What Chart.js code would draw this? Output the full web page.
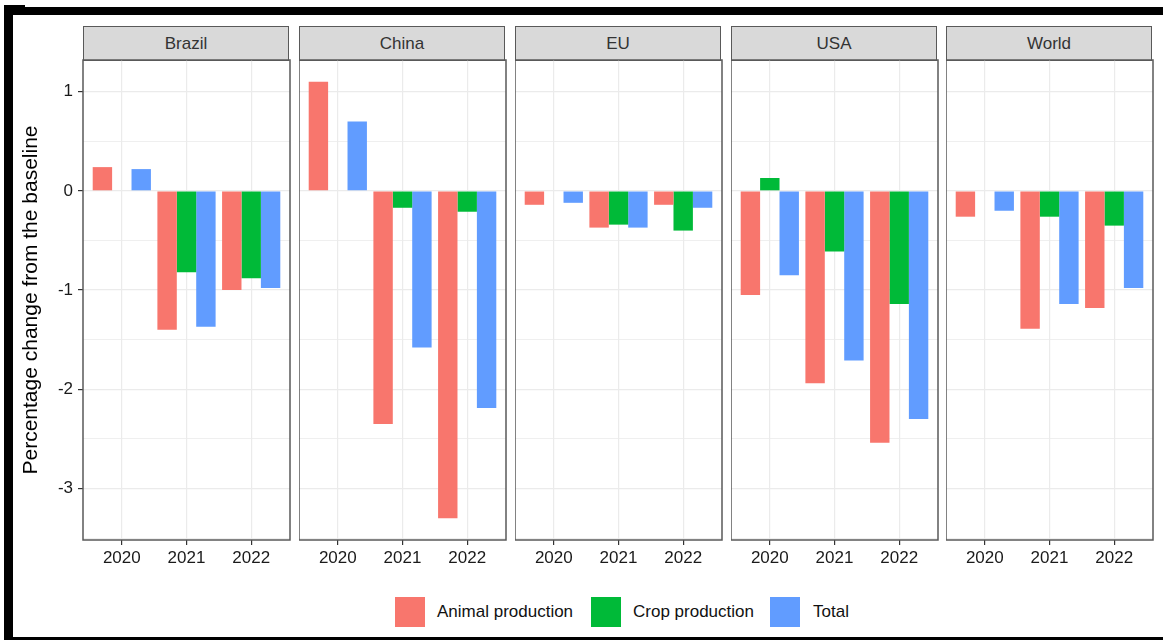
<!DOCTYPE html>
<html>
<head>
<meta charset="utf-8">
<script src="https://cdn.jsdelivr.net/npm/chart.js@4.4.1/dist/chart.umd.min.js"></script>
<style>
  html, body { margin: 0; padding: 0; background: #ffffff; }
  body { width: 1163px; height: 640px; position: relative; overflow: hidden;
         font-family: "Liberation Sans", Arial, sans-serif; }
  .frame { position: absolute; background: #000; }
  .strip { position: absolute; box-sizing: border-box; background: #D9D9D9;
           border: 1.5px solid #595959; color: #333; font-size: 17px;
           display: flex; align-items: center; justify-content: center; }
  .panel { position: absolute; }
  .key { position: absolute; width: 30px; height: 30px; }
  .lab { position: absolute; font-size: 17px; color: #111; line-height: 20px; }
</style>
</head>
<body>
<div class="frame" style="left:4px;top:7px;width:1159px;height:8px"></div>
<div class="frame" style="left:4px;top:5px;width:21px;height:3px"></div>
<div class="frame" style="left:4px;top:7px;width:9px;height:633px"></div>
<div class="frame" style="left:4px;top:637px;width:1159px;height:3px"></div>
<div id="figure"></div>
<script>
// Facet labels, year categories and series names
const regions = ['Brazil', 'China', 'EU', 'USA', 'World'];
const years = ['2020', '2021', '2022'];
const seriesNames = ['Animal production', 'Crop production', 'Total'];
const seriesColors = ['#F8766D', '#00BA38', '#619CFF'];

// Percentage change from the baseline, one row per region (2020, 2021, 2022)
const animalProduction = [
  [0.24, -1.40, -1.00],
  [1.10, -2.35, -3.30],
  [-0.14, -0.37, -0.14],
  [-1.05, -1.94, -2.54],
  [-0.26, -1.39, -1.18]
];
const cropProduction = [
  [null, -0.82, -0.88],
  [null, -0.17, -0.21],
  [null, -0.34, -0.40],
  [0.13, -0.61, -1.14],
  [null, -0.26, -0.35]
];
const totalProduction = [
  [0.22, -1.37, -0.98],
  [0.70, -1.58, -2.19],
  [-0.12, -0.37, -0.17],
  [-0.85, -1.71, -2.30],
  [-0.20, -1.14, -0.98]
];

// Y grid positions (major at integers, minor at halves)
const yGridValues = [-3.5, -3, -2.5, -2, -1.5, -1, -0.5, 0, 0.5, 1];

const allSeries = [animalProduction, cropProduction, totalProduction];

// Shared y range with 5% padding on both ends
const flat = allSeries.flat(2).filter(v => v !== null);
const dMin = Math.min(...flat), dMax = Math.max(...flat);
const span = dMax - dMin;
const yMin = dMin - 0.05 * span, yMax = dMax + 0.05 * span;

// Layout of the facets
const panelLeft = [83, 299, 515, 731, 946];
const panelW = 206;
const plotTop = 60, plotBottom = 539;
const stripTop = 26;
const firstAxisLeft = 14;
const xAxisH = 40;

const fig = document.getElementById('figure');

// Strokes the panel border around the plotting area
const panelBorder = {
  id: 'panelBorder',
  afterDraw(chart) {
    const a = chart.chartArea, c = chart.ctx;
    c.save();
    c.strokeStyle = '#595959';
    c.lineWidth = 1.5;
    c.strokeRect(a.left, a.top, a.right - a.left, a.bottom - a.top);
    c.restore();
  }
};

const noScalePadding = s => {
  s.paddingTop = 0; s.paddingBottom = 0; s.paddingLeft = 0; s.paddingRight = 0;
};

regions.forEach((region, i) => {
  const strip = document.createElement('div');
  strip.className = 'strip';
  strip.style.left = panelLeft[i] + 'px';
  strip.style.top = stripTop + 'px';
  strip.style.width = panelW + 'px';
  strip.style.height = (plotTop - stripTop + 1) + 'px';
  strip.textContent = region;
  fig.appendChild(strip);

  const first = i === 0;
  const yAxisW = first ? panelLeft[0] - firstAxisLeft : 0;
  const canvasLeft = panelLeft[i] - yAxisW;
  const w = yAxisW + panelW + 2;
  const h = (plotBottom - plotTop) + xAxisH + 2;

  const box = document.createElement('div');
  box.className = 'panel';
  box.style.left = canvasLeft + 'px';
  box.style.top = (plotTop - 1) + 'px';
  box.style.width = w + 'px';
  box.style.height = h + 'px';
  const cv = document.createElement('canvas');
  box.appendChild(cv);
  fig.appendChild(box);

  const datasets = allSeries.map((s, k) => ({
    label: seriesNames[k],
    data: s[i].map((v, j) => ({ x: j + 1, y: v })),
    backgroundColor: seriesColors[k],
    borderWidth: 0,
    categoryPercentage: 0.9,
    barPercentage: 1.0
  }));

  new Chart(cv, {
    type: 'bar',
    data: { datasets },
    plugins: [panelBorder],
    options: {
      responsive: true,
      maintainAspectRatio: false,
      animation: false,
      layout: { autoPadding: false, padding: { top: 1, right: 1, left: 0, bottom: 0 } },
      plugins: { legend: { display: false }, tooltip: { enabled: false } },
      scales: {
        x: {
          type: 'linear',
          min: 0.4,
          max: 3.6,
          offset: false,
          afterBuildTicks: s => { s.ticks = years.map((y, j) => ({ value: j + 1 })); },
          afterFit: s => { s.height = xAxisH; noScalePadding(s); },
          ticks: {
            callback: v => years[Math.round(v) - 1],
            font: { family: 'Liberation Sans', size: 17 },
            color: '#1a1a1a',
            padding: 3,
            maxRotation: 0,
            autoSkip: false
          },
          grid: { offset: false, color: '#EBEBEB', lineWidth: 1.2, tickColor: '#333', tickLength: 5 },
          border: { display: false }
        },
        y: {
          min: yMin,
          max: yMax,
          afterBuildTicks: s => { s.ticks = yGridValues.map(v => ({ value: v })); },
          afterFit: s => { s.width = yAxisW; noScalePadding(s); },
          ticks: {
            display: first,
            callback: v => (Number.isInteger(v) ? String(v) : ''),
            font: { family: 'Liberation Sans', size: 17 },
            color: '#1a1a1a',
            padding: 5
          },
          grid: {
            color: '#EBEBEB',
            lineWidth: c => (Number.isInteger(c.tick.value) ? 1.2 : 0.8),
            drawTicks: first,
            tickLength: 5,
            tickColor: c => (Number.isInteger(c.tick.value) ? '#333' : 'rgba(0,0,0,0)')
          },
          border: { display: false },
          title: {
            display: first,
            text: 'Percentage change from the baseline',
            font: { family: 'Liberation Sans', size: 21 },
            color: '#000',
            padding: { top: 5, bottom: 0 }
          }
        }
      }
    }
  });
});

// Legend below the facets
const keyX = [395, 591, 770];
const labX = [437, 633, 813];
seriesNames.forEach((name, k) => {
  const key = document.createElement('div');
  key.className = 'key';
  key.style.left = keyX[k] + 'px';
  key.style.top = '597px';
  key.style.background = seriesColors[k];
  fig.appendChild(key);
  const lab = document.createElement('div');
  lab.className = 'lab';
  lab.style.left = labX[k] + 'px';
  lab.style.top = '602px';
  lab.textContent = name;
  fig.appendChild(lab);
});
</script>
</body>
</html>
